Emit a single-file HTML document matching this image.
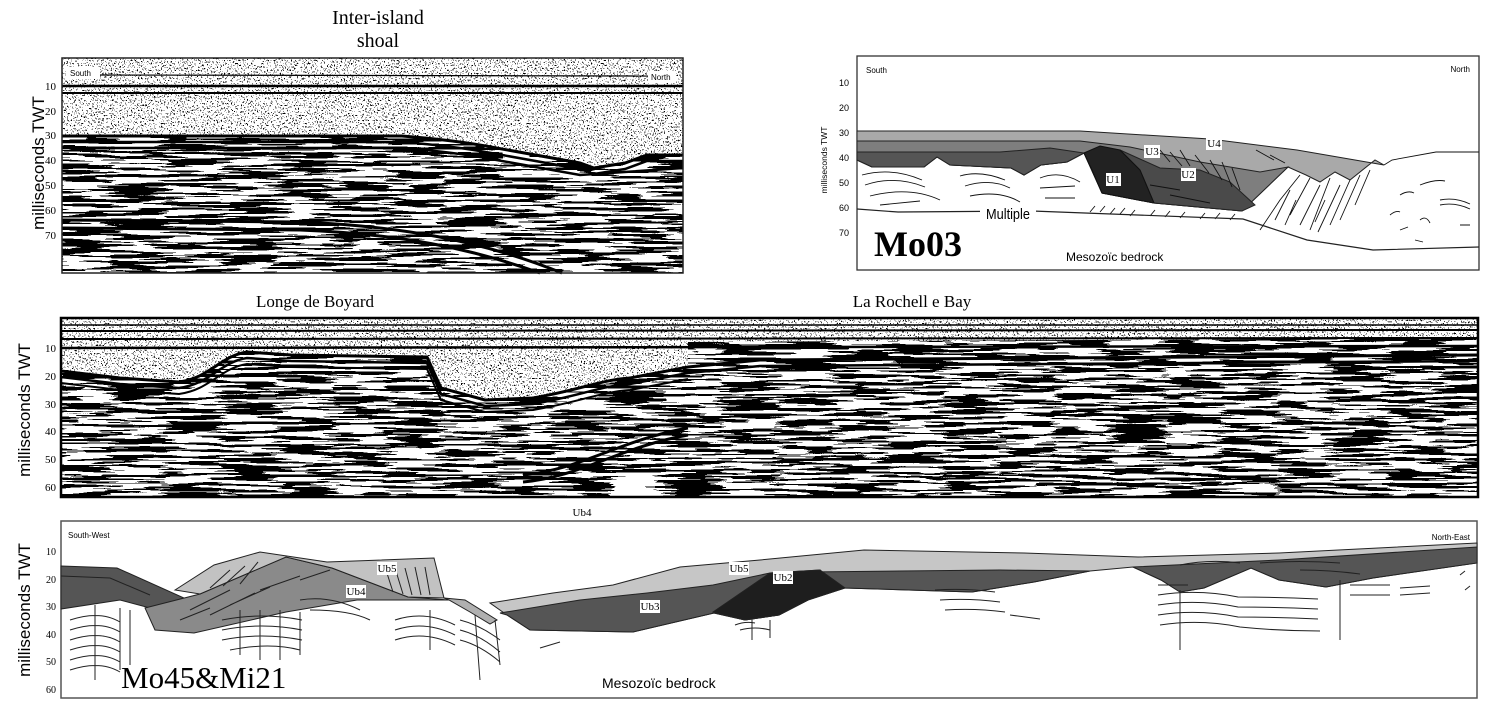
<!DOCTYPE html>
<html><head><meta charset="utf-8"><style>
html,body{margin:0;padding:0;background:#fff;width:1500px;height:718px;overflow:hidden}
svg{display:block}
.ser{font-family:"Liberation Serif",serif}
.san{font-family:"Liberation Sans",sans-serif}
</style></head><body>
<svg width="1500" height="718" viewBox="0 0 1500 718" xmlns="http://www.w3.org/2000/svg">
<defs>
<filter id="seis" x="0" y="0" width="1500" height="718" filterUnits="userSpaceOnUse">
 <feTurbulence type="fractalNoise" baseFrequency="0.018 0.36" numOctaves="2" seed="3"/>
 <feColorMatrix type="matrix" values="1 0 0 0 0  1 0 0 0 0  1 0 0 0 0  0 0 0 0 1"/>
 <feComponentTransfer><feFuncR type="discrete" tableValues="0 1"/><feFuncG type="discrete" tableValues="0 1"/><feFuncB type="discrete" tableValues="0 1"/></feComponentTransfer>
 <feComposite in2="SourceGraphic" operator="in"/>
</filter>
<filter id="noise" x="0" y="0" width="1500" height="718" filterUnits="userSpaceOnUse">
 <feTurbulence type="fractalNoise" baseFrequency="0.7 0.6" numOctaves="2" seed="7"/>
 <feColorMatrix type="matrix" values="1 0 0 0 0  1 0 0 0 0  1 0 0 0 0  0 0 0 0 1"/>
 <feComponentTransfer><feFuncR type="discrete" tableValues="0 0 0 0 1 1 1 1 1 1 1"/><feFuncG type="discrete" tableValues="0 0 0 0 1 1 1 1 1 1 1"/><feFuncB type="discrete" tableValues="0 0 0 0 1 1 1 1 1 1 1"/></feComponentTransfer>
 <feComposite in2="SourceGraphic" operator="in"/>
</filter>
</defs>

<!-- ===== Top-left seismic ===== -->
<text x="378" y="24" class="ser" font-size="20" text-anchor="middle">Inter-island</text>
<text x="378" y="47" class="ser" font-size="20" text-anchor="middle">shoal</text>
<rect x="62" y="58" width="621" height="215" fill="#fff" filter="url(#noise)"/>
<path d="M62,136 L402,136 C440,139 470,143 491,147 L580,163 L594,168 L625,163 L647,155 L683,155 L683,273 L62,273 Z" fill="#fff" filter="url(#seis)"/>
<g fill="none" stroke="#000">
<path d="M62,136 L402,136 C440,139 470,143 491,147 L580,163 L594,168 L625,163 L647,155 L683,155" stroke-width="3"/>
<path d="M62,142 L402,142 C440,145 470,149 491,153 L580,169 L594,174 L625,169 L647,161 L683,161" stroke-width="2.5"/>
<path d="M62,148 L402,148 C440,151 470,155 491,159 L580,175 L683,168" stroke-width="2.5"/>
<path d="M62,220 L300,222 C400,226 480,240 562,273" stroke-width="3"/>
<path d="M62,228 L300,230 C400,234 470,248 540,273" stroke-width="3"/>
<path d="M62,86 L683,86" stroke-width="2.5"/>
<path d="M62,93 L683,93" stroke-width="2"/>
<path d="M100,75 L650,76" stroke-width="1.2"/>
</g>
<rect x="66" y="67" width="34" height="12" fill="#fff"/>
<text x="70" y="76" class="san" font-size="8">South</text>
<rect x="648" y="71" width="28" height="12" fill="#fff"/>
<text x="651" y="80" class="san" font-size="8">North</text>
<rect x="62" y="58" width="621" height="215" fill="none" stroke="#222" stroke-width="1.5"/>
<g class="ser" font-size="11" text-anchor="end">
<text x="56" y="90">10</text><text x="56" y="115">20</text><text x="56" y="139">30</text><text x="56" y="164">40</text><text x="56" y="189">50</text><text x="56" y="214">60</text><text x="56" y="239">70</text>
</g>
<text transform="translate(44,163) rotate(-90)" class="san" font-size="17" text-anchor="middle">milliseconds TWT</text>

<!-- ===== Mo03 ===== -->
<rect x="857" y="56" width="622" height="214" fill="#fff" stroke="#333" stroke-width="1.3"/>
<text x="866" y="73" class="san" font-size="8">South</text>
<text x="1470" y="72" class="san" font-size="8" text-anchor="end">North</text>
<g class="san" font-size="9" text-anchor="end">
<text x="849" y="86">10</text><text x="849" y="111">20</text><text x="849" y="136">30</text><text x="849" y="161">40</text><text x="849" y="186">50</text><text x="849" y="211">60</text><text x="849" y="236">70</text>
</g>
<text transform="translate(827,160) rotate(-90)" class="san" font-size="8.5" text-anchor="middle">milliseconds TWT</text>
<path d="M857,131 L1080,131 L1210,139 L1297,150 L1384,165 L1375,160 L1350,180 L1335,172 L1320,182 L1306,175 L1288,167 L1242,211 L1154,203 L1102,193 L1084,153 L1067,162 L1041,165 L1024,175 L1011,168 L950,165 L937,157 L924,167 L872,167 L857,160 Z" fill="#a9a9a9" stroke="#222" stroke-width="1"/>
<path d="M857,141 L1080,141 L1130,147 L1200,162 L1260,172 L1288,167 L1242,211 L1154,203 L1102,193 L1084,153 L1067,162 L1041,165 L1024,175 L1011,168 L950,165 L937,157 L924,167 L872,167 L857,160 Z" fill="#7e7e7e" stroke="#222" stroke-width="1"/>
<path d="M857,152 L1000,152 L1050,148 L1084,153 L1067,162 L1041,165 L1024,175 L1011,168 L950,165 L937,157 L924,167 L872,167 L857,160 Z" fill="#555" stroke="#222" stroke-width="1"/>
<path d="M1120,150 L1160,168 L1200,170 L1230,182 L1255,205 L1242,211 L1154,203 L1140,170 Z" fill="#4a4a4a" stroke="#222" stroke-width="1"/>
<path d="M1084,153 L1100,146 L1120,150 L1140,170 L1154,203 L1102,193 L1092,170 Z" fill="#222" stroke="#111" stroke-width="1"/>
<g fill="none" stroke="#111" stroke-width="0.9">
<path d="M1160,150 l10,12 M1170,152 l12,14 M1180,150 l10,16 M1195,155 l14,18 M1210,160 l12,20 M1222,162 l10,25 M1232,168 l8,22 M1150,185 l30,5 M1170,195 l40,8 M1256,150 l18,10 M1270,155 l15,8"/>
<path d="M1384,165 L1392,160 L1436,152 L1479,152"/>
<path d="M1300,175 L1280,200 L1260,230 M1310,178 L1290,215 M1320,185 L1300,225 M1330,178 L1310,230 M1340,185 L1318,232 M1350,180 L1330,225 M1360,175 L1340,220 M1290,190 L1275,220 M1370,170 L1355,205 M1296,200 L1285,225 M1325,200 L1315,222"/>
<path d="M1400,195 q8,-5 14,-2 M1420,185 q15,-6 25,-4 M1440,200 q15,-3 30,4 M1440,205 q15,-3 30,4 M1390,215 q6,-5 10,-3 M1400,230 l8,-3 M1415,240 l8,2 M1460,225 l10,0 M1420,220 q6,-5 10,3"/>
<path d="M862,175 q30,-8 60,5 M865,185 q30,-10 60,2 M870,196 q40,-10 70,4 M960,176 q20,-6 45,4 M965,186 q25,-8 45,2 M970,196 q30,-6 50,6 M1040,178 q20,-8 40,4 M1040,188 l35,-2 M1045,198 l30,0 M880,205 l40,-4"/>
<path d="M1090,212 l5,-6 M1100,212 l5,-6 M1110,214 l5,-6 M1120,214 l5,-6 M1130,216 l5,-6 M1150,216 l5,-6 M1165,217 l5,-6 M1180,218 l5,-6 M1200,219 l5,-6 M1215,219 l5,-6 M1230,220 l5,-6"/>
</g>
<path d="M857,209 L898,212 L1032,211 L1243,219 L1307,240 L1373,250 L1479,247" fill="none" stroke="#222" stroke-width="1.2"/>
<rect x="980" y="205" width="56" height="16" fill="#fff"/>
<text x="1008" y="219" class="san" font-size="15" text-anchor="middle" transform="translate(1008,0) scale(0.85,1) translate(-1008,0)">Multiple</text>
<g class="ser" font-size="11" text-anchor="middle">
<rect x="1106" y="173" width="15" height="13" fill="#fff"/><text x="1113" y="183">U1</text>
<rect x="1181" y="168" width="15" height="13" fill="#fff"/><text x="1188" y="178">U2</text>
<rect x="1144" y="145" width="16" height="13" fill="#fff"/><text x="1152" y="155">U3</text>
<rect x="1206" y="137" width="16" height="13" fill="#fff"/><text x="1214" y="147">U4</text>
</g>
<text x="874" y="256" class="ser" font-size="36" font-weight="bold">Mo03</text>
<text x="1066" y="261" class="san" font-size="12">Mesozoïc bedrock</text>

<!-- ===== Middle seismic ===== -->
<text x="315" y="307" class="ser" font-size="17" text-anchor="middle">Longe de Boyard</text>
<text x="912" y="307" class="ser" font-size="17" text-anchor="middle">La Rochell e Bay</text>
<rect x="61" y="318" width="1417" height="179" fill="#fff" filter="url(#noise)"/>
<path d="M61,371 L120,378 L179,382 C210,378 220,356 247,352 L291,355 L427,357 L441,388 L485,400 L533,398 C580,390 600,380 630,378 L688,367 L688,342 L1478,338 L1478,497 L61,497 Z" fill="#fff" filter="url(#seis)"/>
<g fill="none" stroke="#000">
<path d="M61,371 L120,378 L179,382 C210,378 220,356 247,352 L291,355 L427,357 L441,388 L485,400 L533,398 C580,390 600,380 630,378 L688,367 L760,360 L1478,355" stroke-width="3"/>
<path d="M61,377 L120,384 L179,388 C210,384 220,362 247,358 L291,361 L427,363 L441,394 L485,406 L533,404 C580,396 600,386 630,384 L688,373 L760,366 L1478,361" stroke-width="2.5"/>
<path d="M61,383 L120,390 L179,394 C210,390 220,368 247,364 L291,367 L427,369 L441,400 L485,412 L533,410 C580,402 600,392 630,390 L688,379" stroke-width="2"/>
<path d="M61,325 L1478,325" stroke-width="1.5"/>
<path d="M61,331 L1478,330" stroke-width="2"/>
<path d="M61,339 L1478,338" stroke-width="2"/>
<path d="M61,348 L1478,346" stroke-width="2.5"/>
<path d="M523,475 C580,470 620,440 688,428" stroke-width="3"/>
<path d="M523,482 C580,477 620,447 688,435" stroke-width="3"/>
</g>
<rect x="61" y="318" width="1417" height="179" fill="none" stroke="#000" stroke-width="2.5"/>
<g class="ser" font-size="11" text-anchor="end">
<text x="56" y="352">10</text><text x="56" y="380">20</text><text x="56" y="408">30</text><text x="56" y="435">40</text><text x="56" y="463">50</text><text x="56" y="491">60</text>
</g>
<text transform="translate(30,410) rotate(-90)" class="san" font-size="17" text-anchor="middle">milliseconds TWT</text>

<!-- ===== Bottom interpretation ===== -->
<text x="582" y="516" class="ser" font-size="11" text-anchor="middle">Ub4</text>
<rect x="61" y="521" width="1416" height="177" fill="#fff" stroke="#555" stroke-width="1.5"/>
<text x="68" y="538" class="san" font-size="8">South-West</text>
<text x="1470" y="540" class="san" font-size="8" text-anchor="end">North-East</text>
<g stroke="#222" stroke-width="1">
<path d="M61,566 L117,568 L184,598 L150,608 L120,600 L61,609 Z" fill="#555"/>
<path d="M61,576 L110,578 L150,595" fill="none"/>
<path d="M145,608 L200,594 L286,557 L332,568 L408,597 L449,600 L357,600 L286,612 L194,633 L155,630 Z" fill="#8a8a8a"/>
<path d="M175,590 L214,565 L260,552 L327,562 L434,558 L444,598 L408,597 L332,568 L286,557 L200,594 Z" fill="#c2c2c2"/>
<path d="M444,598 L465,600 L497,620 L490,624 L470,612 L449,600 Z" fill="#b0b0b0"/>
<path d="M490,603 L553,593 L613,585 L680,567 L760,560 L864,550 L1024,553 L1138,557 L1279,553 L1477,543 L1477,563 L1373,578 L1326,587 L1279,580 L1251,568 L1204,588 L1180,592 L1161,580 L1133,567 L1090,571 L1034,582 L972,592 L845,588 L808,600 L779,615 L745,620 L714,613 L633,632 L530,630 L507,615 Z" fill="#c6c6c6"/>
<path d="M500,613 L580,600 L647,593 L713,585 L770,573 L820,570 L808,600 L779,615 L745,620 L714,613 L633,632 L530,630 L507,615 Z" fill="#555"/>
<path d="M807,572 L900,571 L1000,570 L1090,571 L1034,582 L972,592 L845,588 Z" fill="#555"/>
<path d="M713,612 L770,573 L820,570 L845,588 L808,600 L779,615 L745,620 Z" fill="#1e1e1e"/>
<path d="M1133,567 L1279,560 L1477,547 L1477,563 L1373,578 L1326,587 L1279,580 L1251,568 L1204,588 L1180,592 L1161,580 Z" fill="#555"/>
</g>
<g fill="none" stroke="#222" stroke-width="1">
<path d="M230,570 l-20,18 M245,566 l-22,20 M258,562 l-18,22 M190,610 l40,-20 M210,615 l45,-22 M230,605 l40,-18 M260,590 l40,-14 M300,580 l30,-10 M180,620 l30,-12"/>
<path d="M385,567 l8,25 M395,568 l8,26 M405,568 l7,27 M415,567 l6,28 M425,567 l5,28"/>
<path d="M70,620 q30,-10 50,2 M70,630 q30,-10 50,2 M70,640 q30,-10 50,2 M70,650 q30,-10 50,2 M70,660 q30,-10 50,2 M70,670 q30,-10 50,2 M95,605 L95,680 M120,608 L120,670 M130,610 L130,665"/>
<path d="M222,620 q40,-8 80,0 M222,630 q40,-8 80,0 M222,640 q40,-8 80,0 M230,650 q40,-8 70,0 M240,610 L240,655 M260,610 L260,660 M280,610 L280,660 M300,612 L300,655"/>
<path d="M300,600 q30,-5 60,10 M310,610 q40,0 60,10"/>
<path d="M395,620 q30,-10 60,5 M395,630 q30,-10 60,5 M395,640 q30,-10 60,5 M430,610 L430,650 M460,620 q20,5 40,20 M460,630 q20,5 40,22 M460,640 q20,5 40,22 M475,615 L480,680 M495,620 L500,665"/>
<path d="M540,648 l20,-6 M735,625 q10,-4 20,-2 M740,630 q15,-4 30,0 M752,618 L752,640 M770,620 L770,638"/>
<path d="M935,590 q30,-2 60,2 M940,600 q30,-2 60,2 M945,610 q30,-2 60,2 M1010,615 l30,4"/>
<path d="M1158,585 l30,0 M1158,595 q40,-6 80,2 q40,0 80,2 M1158,605 q40,-6 80,2 q40,0 80,2 M1158,615 q40,-6 80,2 q40,0 80,2 M1160,625 q40,-6 80,2 q40,4 80,4 M1180,590 L1180,650 M1340,580 L1340,640 M1350,585 l40,0 M1350,595 l40,0 M1400,588 l30,-2 M1400,595 l30,-2 M1460,575 l5,-4 M1465,590 l5,-4"/>
<path d="M1180,565 q30,-6 60,-2 M1260,563 q40,-3 80,0 M1300,570 q30,0 60,4"/>
</g>
<g class="ser" font-size="11" text-anchor="middle">
<rect x="377" y="562" width="20" height="13" fill="#fff"/><text x="387" y="572">Ub5</text>
<rect x="346" y="585" width="20" height="13" fill="#fff"/><text x="356" y="595">Ub4</text>
<rect x="729" y="562" width="20" height="13" fill="#fff"/><text x="739" y="572">Ub5</text>
<rect x="773" y="571" width="20" height="13" fill="#fff"/><text x="783" y="581">Ub2</text>
<rect x="640" y="600" width="20" height="13" fill="#fff"/><text x="650" y="610">Ub3</text>
</g>
<g class="ser" font-size="10" text-anchor="end">
<text x="56" y="555">10</text><text x="56" y="583">20</text><text x="56" y="610">30</text><text x="56" y="638">40</text><text x="56" y="665">50</text><text x="56" y="693">60</text>
</g>
<text transform="translate(30,610) rotate(-90)" class="san" font-size="17" text-anchor="middle">milliseconds TWT</text>
<text x="121" y="688" class="ser" font-size="31">Mo45&amp;Mi21</text>
<text x="602" y="688" class="san" font-size="14">Mesozoïc bedrock</text>
</svg>
</body></html>
